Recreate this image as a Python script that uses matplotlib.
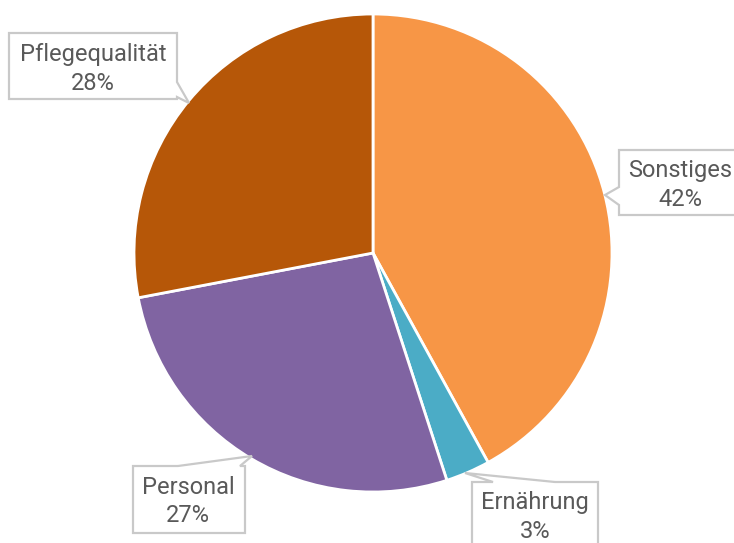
import matplotlib
matplotlib.use("Agg")
import matplotlib.pyplot as plt
from matplotlib.patches import Polygon

labels = ["Sonstiges", "Ernährung", "Personal", "Pflegequalität"]
values = [42, 3, 27, 28]
colors = ["#F79646", "#4BACC6", "#8064A2", "#B65708"]

W, H = 734, 543
fig = plt.figure(figsize=(W / 100, H / 100), dpi=100)
ax = fig.add_axes([0, 0, 1, 1])

cx, cy, r = 373, H - 253, 239
ax.pie(values, colors=colors, startangle=90, counterclock=False,
       center=(cx, cy), radius=r, frame=True,
       wedgeprops=dict(edgecolor="white", linewidth=2))
ax.set_xlim(0, W)
ax.set_ylim(0, H)
ax.set_aspect("equal")
ax.axis("off")

# callout layout (pixel coords, y from top)
callouts = {
    "Pflegequalität": dict(box=(9, 33, 177, 99), side="right", base=(82, 97), tip=(189, 103), tx=93),
    "Sonstiges": dict(box=(619, 150, 745, 215), side="left", base=(187, 205), tip=(605, 195), tx=680),
    "Personal": dict(box=(133, 466, 245, 533), side="top", base=(178, 240), tip=(252, 456), tx=188),
    "Ernährung": dict(box=(472, 482, 598, 560), side="top", base=(493, 555), tip=(465, 473), tx=535),
}

def fy(y):
    return H - y

for lab, val in zip(labels, values):
    c = callouts[lab]
    x0, y0, x1, y1 = c["box"]
    b0, b1 = c["base"]
    tx, ty = c["tip"]
    if c["side"] == "right":
        pts = [(x0, y0), (x1, y0), (x1, b0), (tx, ty), (x1, b1), (x1, y1), (x0, y1)]
    elif c["side"] == "left":
        pts = [(x0, y0), (x1, y0), (x1, y1), (x0, y1), (x0, b1), (tx, ty), (x0, b0)]
    else:
        pts = [(x0, y0), (b0, y0), (tx, ty), (b1, y0), (x1, y0), (x1, y1), (x0, y1)]
    poly = Polygon([(x, fy(y)) for x, y in pts], closed=True, facecolor="white",
                   edgecolor="#C9C9C9", linewidth=1.6, joinstyle="miter", zorder=5)
    ax.add_patch(poly)
    mx = c["tx"]
    ax.text(mx, fy(y0 + 21), lab, ha="center", va="center", fontsize=17,
            family="Roboto", color="#595959", zorder=6)
    ax.text(mx, fy(y0 + 50), f"{val}%", ha="center", va="center", fontsize=17,
            family="Roboto", color="#595959", zorder=6)

fig.savefig("out.png", dpi=100)
